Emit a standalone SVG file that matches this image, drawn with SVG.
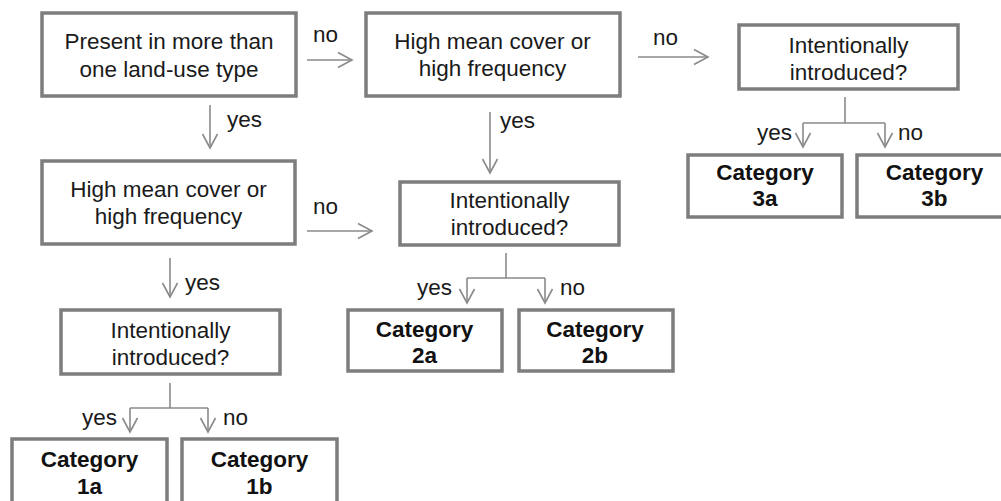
<svg xmlns="http://www.w3.org/2000/svg" width="1001" height="501" viewBox="0 0 1001 501">
<defs>
<style>
.box{fill:#fff;stroke:#7d7d7d;stroke-width:3.5}
.t{font-family:"Liberation Sans",Arial,sans-serif;font-size:22.5px;fill:#1a1a1a;text-anchor:middle}
.b{font-weight:bold;fill:#111}
.lbl{font-family:"Liberation Sans",Arial,sans-serif;font-size:22.5px;fill:#1a1a1a}
.c{fill:none;stroke:#8a8a8a;stroke-width:1.6}
</style>
<marker id="ah" markerUnits="userSpaceOnUse" markerWidth="20" markerHeight="20" viewBox="-15 -10 20 20" refX="0" refY="0" orient="auto">
<path d="M-14,-7.5 L0,0 L-14,7.5" fill="none" stroke="#8a8a8a" stroke-width="1.6"/>
</marker>
</defs>
<rect width="1001" height="501" fill="#fff"/>
<g id="connectors">
<line class="c" x1="307" y1="60" x2="352" y2="60" marker-end="url(#ah)"/>
<line class="c" x1="210" y1="105" x2="210" y2="148" marker-end="url(#ah)"/>
<line class="c" x1="638" y1="57" x2="708" y2="57" marker-end="url(#ah)"/>
<line class="c" x1="490" y1="112" x2="490" y2="173" marker-end="url(#ah)"/>
<line class="c" x1="307" y1="231" x2="372" y2="231" marker-end="url(#ah)"/>
<line class="c" x1="170" y1="258" x2="170" y2="297" marker-end="url(#ah)"/>
<path class="c" d="M170,383 V408 M130,408 H208"/>
<line class="c" x1="130" y1="408" x2="130" y2="432" marker-end="url(#ah)"/>
<line class="c" x1="208" y1="408" x2="208" y2="432" marker-end="url(#ah)"/>
<path class="c" d="M506,253 V278 M467,278 H545"/>
<line class="c" x1="467" y1="278" x2="467" y2="303" marker-end="url(#ah)"/>
<line class="c" x1="545" y1="278" x2="545" y2="303" marker-end="url(#ah)"/>
<path class="c" d="M845,97 V123 M803,123 H885"/>
<line class="c" x1="803" y1="123" x2="803" y2="147" marker-end="url(#ah)"/>
<line class="c" x1="885" y1="123" x2="885" y2="147" marker-end="url(#ah)"/>
<text class="lbl" x="313" y="42">no</text>
<text class="lbl" x="227" y="127">yes</text>
<text class="lbl" x="653" y="45">no</text>
<text class="lbl" x="500" y="128">yes</text>
<text class="lbl" x="313" y="214">no</text>
<text class="lbl" x="185" y="290">yes</text>
<text class="lbl" x="117" y="425" text-anchor="end">yes</text>
<text class="lbl" x="223" y="425">no</text>
<text class="lbl" x="452" y="295" text-anchor="end">yes</text>
<text class="lbl" x="560" y="295">no</text>
<text class="lbl" x="792" y="140" text-anchor="end">yes</text>
<text class="lbl" x="898" y="140">no</text>
</g>
<g id="n1"><rect class="box" x="42" y="13" width="254" height="83"/>
<text class="t" x="169" y="49">Present in more than</text><text class="t" x="169" y="77">one land-use type</text></g>
<g id="n2"><rect class="box" x="366" y="13" width="254" height="83"/>
<text class="t" x="492.5" y="49">High mean cover or</text><text class="t" x="492.5" y="76">high frequency</text></g>
<g id="n3"><rect class="box" x="739" y="25" width="219" height="64"/>
<text class="t" x="848.5" y="53">Intentionally</text><text class="t" x="848.5" y="80">introduced?</text></g>
<g id="n4"><rect class="box" x="42" y="161" width="253" height="83"/>
<text class="t" x="168.5" y="197">High mean cover or</text><text class="t" x="168.5" y="224">high frequency</text></g>
<g id="n5"><rect class="box" x="400" y="182" width="219" height="63"/>
<text class="t" x="509.5" y="208">Intentionally</text><text class="t" x="509.5" y="235">introduced?</text></g>
<g id="n6"><rect class="box" x="61" y="310" width="219" height="64"/>
<text class="t" x="170.5" y="338">Intentionally</text><text class="t" x="170.5" y="365">introduced?</text></g>
<g id="cat1a"><rect class="box" x="12" y="439" width="155" height="72"/>
<text class="t b" x="89.5" y="467">Category</text><text class="t b" x="89.5" y="494">1a</text></g>
<g id="cat1b"><rect class="box" x="182" y="439" width="155" height="72"/>
<text class="t b" x="259.5" y="467">Category</text><text class="t b" x="259.5" y="494">1b</text></g>
<g id="cat2a"><rect class="box" x="348" y="310" width="154" height="61"/>
<text class="t b" x="424.5" y="337">Category</text><text class="t b" x="424.5" y="363">2a</text></g>
<g id="cat2b"><rect class="box" x="519" y="310" width="154" height="61"/>
<text class="t b" x="595" y="337">Category</text><text class="t b" x="595" y="363">2b</text></g>
<g id="cat3a"><rect class="box" x="688" y="155" width="154" height="62"/>
<text class="t b" x="765" y="180">Category</text><text class="t b" x="765" y="206">3a</text></g>
<g id="cat3b"><rect class="box" x="857" y="155" width="154" height="62"/>
<text class="t b" x="934.5" y="180">Category</text><text class="t b" x="934.5" y="206">3b</text></g>
</svg>
